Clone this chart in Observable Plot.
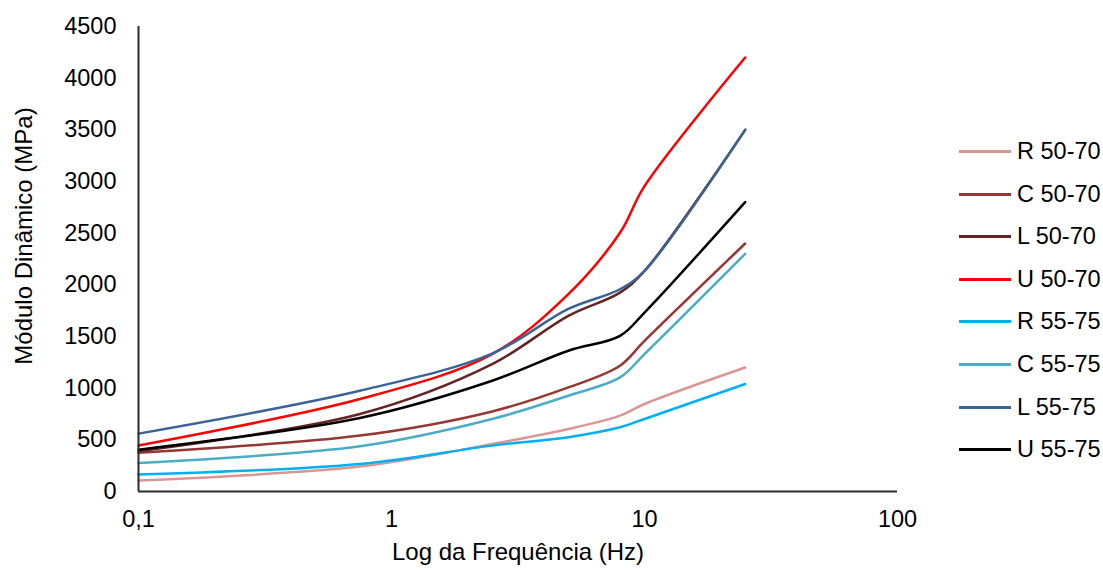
<!DOCTYPE html>
<html>
<head>
<meta charset="utf-8">
<script src="https://cdn.jsdelivr.net/npm/d3@7"></script>
<script src="https://cdn.jsdelivr.net/npm/@observablehq/plot@0.6"></script>
<style>
  html, body { margin: 0; padding: 0; background: #fff; }
  #wrap { position: relative; width: 1103px; height: 570px; font-family: "Liberation Sans", Arial, sans-serif; }
  #legend { position: absolute; left: 959px; top: 0; }
  .item { position: absolute; left: 0; height: 0; white-space: nowrap; }
  .item .sw { position: absolute; left: 0; top: -1px; width: 52px; height: 3px; }
  .item .lb { position: absolute; left: 58px; top: -14px; font-size: 23.5px; line-height: 28px; color: #000; }
  #ytitle { position: absolute; left: 24px; top: 236px; transform: translate(-50%, -50%) rotate(-90deg); white-space: nowrap; font-size: 24px; line-height: 28px; color: #000; }
</style>
</head>
<body>
<div id="wrap"></div>
<script>
const freq = [0.1, 0.75, 2.5, 5, 8, 10, 25];

const seriesNames = ["R 50-70", "C 50-70", "L 50-70", "U 50-70", "R 55-75", "C 55-75", "L 55-75", "U 55-75"];
const seriesColors = ["#D99694", "#953735", "#632523", "#FF0000", "#00B0F0", "#4BACC6", "#3B6496", "#000000"];

// Dynamic modulus (MPa)
const r5070 = [106, 241, 460, 605, 734, 847, 1200];
const c5070 = [375, 541, 775, 1007, 1217, 1458, 2400];
const l5070 = [390, 750, 1233, 1700, 1925, 2134, 3500];
const u5070 = [445, 895, 1330, 1910, 2504, 2955, 4200];
const r5575 = [165, 267, 444, 525, 621, 702, 1040];
const c5575 = [275, 438, 702, 927, 1104, 1330, 2300];
const l5575 = [560, 975, 1335, 1767, 1957, 2134, 3500];
const u5575 = [405, 712, 1072, 1362, 1506, 1732, 2800];

const xTicks = [0.1, 1, 10, 100];
const yTicks = [0, 500, 1000, 1500, 2000, 2500, 3000, 3500, 4000, 4500];

const xTitle = "Log da Frequência (Hz)";
const yTitle = "Módulo Dinâmico (MPa)";

const valuesBySeries = [r5070, c5070, l5070, u5070, r5575, c5575, l5575, u5575];
const rows = seriesNames.flatMap((s, i) => freq.map((f, j) => ({s, f, v: valuesBySeries[i][j]})));

const chart = Plot.plot({
  width: 1103,
  height: 570,
  marginLeft: 138,
  marginRight: 206,
  marginTop: 26,
  marginBottom: 79,
  style: {fontFamily: "'Liberation Sans', Arial, sans-serif", fontSize: "23.5px", color: "#000", background: "transparent", overflow: "visible"},
  x: {type: "log", domain: [0.1, 100], ticks: xTicks, tickFormat: d => String(d).replace(".", ","), tickSize: 0, tickPadding: 19, label: null},
  y: {domain: [0, 4500], ticks: yTicks, tickFormat: d => String(d), tickSize: 0, tickPadding: 22, label: null},
  color: {domain: seriesNames, range: seriesColors},
  marks: [
    Plot.line(rows, {x: "f", y: "v", z: "s", stroke: "s", strokeWidth: 2.5, curve: "catmull-rom"}),
    Plot.ruleY([0], {stroke: "#2b2b2b", strokeWidth: 2}),
    Plot.ruleX([0.1], {stroke: "#2b2b2b", strokeWidth: 2}),
    Plot.text([xTitle], {text: d => d, frameAnchor: "bottom", dy: 68, fontSize: 24, fill: "#000"})
  ]
});

const wrap = document.getElementById("wrap");
wrap.appendChild(chart);

const yt = document.createElement("div");
yt.id = "ytitle";
yt.textContent = yTitle;
wrap.appendChild(yt);

const legend = document.createElement("div");
legend.id = "legend";
seriesNames.forEach((name, i) => {
  const item = document.createElement("div");
  item.className = "item";
  item.style.top = (151 + 42.6 * i) + "px";
  const sw = document.createElement("div");
  sw.className = "sw";
  sw.style.background = seriesColors[i];
  const lb = document.createElement("div");
  lb.className = "lb";
  lb.textContent = name;
  item.appendChild(sw);
  item.appendChild(lb);
  legend.appendChild(item);
});
wrap.appendChild(legend);
</script>
</body>
</html>
